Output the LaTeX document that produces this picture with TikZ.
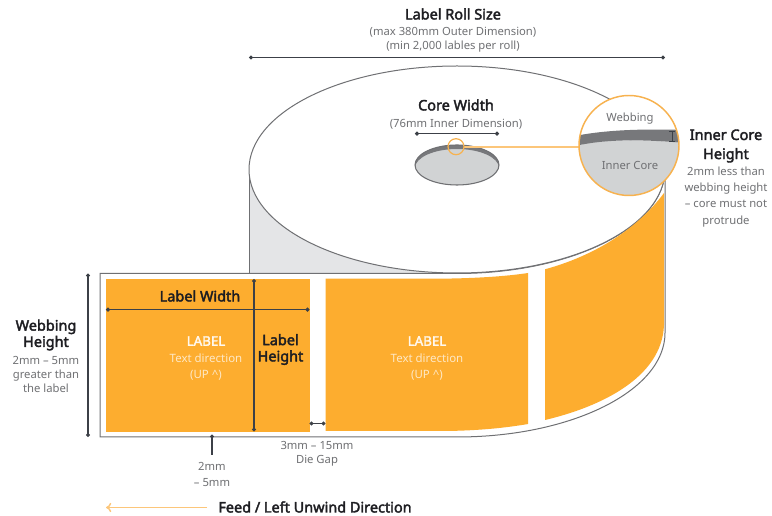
\documentclass[tikz,border=0pt]{standalone}
\usepackage{fontspec}
\setmainfont{Noto Sans}[BoldFont={Noto Sans},BoldFeatures={FakeBold=2.6}]
\usetikzlibrary{arrows.meta}
\definecolor{lab}{HTML}{FDAD2F}
\definecolor{ring}{HTML}{F7B24F}
\definecolor{ringlight}{HTML}{FCC67A}
\definecolor{dimc}{HTML}{3C4047}
\definecolor{edge}{HTML}{6F7073}
\definecolor{wall}{HTML}{E4E5E7}
\definecolor{coreg}{HTML}{D1D3D4}
\definecolor{band}{HTML}{77787B}
\definecolor{subt}{HTML}{6F7073}
\definecolor{headt}{HTML}{1E1E22}
\tikzset{
  x=0.75pt,y=-0.75pt,
  outline/.style={draw=edge,line width=0.75pt},
  dimline/.style={draw=dimc,line width=0.8pt,{Circle[length=3pt]}-{Circle[length=3pt]}},
  head/.style={text=headt,font=\bfseries\fontsize{10.85}{12.2}\selectfont,align=center,inner sep=0pt},
  subtxt/.style={text=subt,font=\fontsize{8.45}{10.4}\selectfont,align=center,inner sep=0pt},
  labhead/.style={text=white!92!lab,font=\bfseries\fontsize{10}{12}\selectfont,align=center,inner sep=0pt},
  labsub/.style={text=white!72!lab,font=\fontsize{8.6}{12}\selectfont,align=center,inner sep=0pt},
}
\begin{document}
\begin{tikzpicture}
\useasboundingbox (0,0) rectangle (772,516);
% roll side wall
\fill[wall] (249,170) -- (249,273.5) -- (457,273.5) -- cycle;
% webbing strip
\path[fill=white,outline] (100,273.5) -- (457,273.5)
  .. controls (571.9,273.5) and (665,226.7) .. (665,169.5) -- (665,333)
  .. controls (665,390.4) and (571.9,437) .. (457,437) -- (100,437) -- cycle;
\draw[outline] (249,170) -- (249,273.5);
% roll top face
\path[fill=white,outline] (457,169.5) ellipse[x radius=208,y radius=103.5];
% labels
\fill[lab] (105.7,278.7) rectangle (309.7,432);
\fill[lab] (325.5,278.7) -- (440,278.7) .. controls (475,278.3) and (505,276.5) .. (528,273)
  -- (528,424) .. controls (505,428) and (475,431) .. (440,431) -- (325.5,431) -- cycle;
\fill[lab] (545,269.3) .. controls (590,257) and (635,232) .. (664,193) -- (664,325)
  .. controls (662,378) and (600,407) .. (545,420) -- cycle;
% core hole
\begin{scope}
\clip (457,165) ellipse[x radius=42,y radius=20];
\fill[coreg] (415,145) rectangle (499,185);
\fill[band,even odd rule] (415,145) rectangle (499,185) (457,168) ellipse[x radius=42,y radius=19];
\end{scope}
\draw[edge,line width=0.8pt] (457,165) ellipse[x radius=42,y radius=20];
% magnifier
\coordinate (smallc) at (456,146.7);
\coordinate (bigc) at (629,145.5);
\draw[ringlight,line width=1.4pt] (464,146.7) -- (580,146.7);
\draw[ring,line width=0.9pt] (smallc) circle[radius=8];
\begin{scope}
\clip (bigc) circle[radius=50];
\fill[white] (575,90) rectangle (685,200);
\fill[coreg] (575,146) -- (579,145) .. controls (610,138) and (650,140) .. (685,143) -- (685,200) -- (575,200) -- cycle;
\fill[band] (575,136) .. controls (610,129) and (650,129) .. (685,130) -- (685,143)
  .. controls (650,140) and (610,138) .. (575,146) -- cycle;
\end{scope}
\draw[ring,line width=1.1pt] (bigc) circle[radius=50];
% dimension lines
\coordinate (rollL) at (249,57.5); \coordinate (rollR) at (665,57.5);
\coordinate (coreL) at (415,133.7); \coordinate (coreR) at (499,133.7);
\coordinate (lwL) at (106,309.7); \coordinate (lwR) at (309.5,309.7);
\coordinate (lhT) at (254,279); \coordinate (lhB) at (254,431.5);
\coordinate (whT) at (88,273.5); \coordinate (whB) at (88,437);
\coordinate (gapL) at (309.5,423.5); \coordinate (gapR) at (325.5,423.5);
\coordinate (marT) at (212,434.5); \coordinate (marB) at (212,455);
\coordinate (icT) at (672,131); \coordinate (icB) at (672,142);
\coordinate (feedR) at (207,507.5); \coordinate (feedL) at (106,507.5);
\draw[dimline] (rollL) -- (rollR);
\draw[dimline] (coreL) -- (coreR);
\draw[dimline] (lwL) -- (lwR);
\draw[dimline] (lhT) -- (lhB);
\draw[dimline] (whT) -- (whB);
\draw[dimline] (gapL) -- (gapR);
\draw[draw=dimc,line width=0.8pt,{Circle[length=3pt]}-] (marT) -- (marB);
\draw[draw=dimc,line width=0.7pt,{Bar[width=4pt]}-{Bar[width=4pt]}] (icT) -- (icB);
\draw[ringlight,line width=1.1pt,-{To[length=4pt,width=7pt]}] (feedR) -- (feedL);
% text
\node[head] (t1) at (453,14) {Label Roll Size};
\node[subtxt] (t2) at (453,39.5) {(max 380mm Outer Dimension)\\(min 2,000 lables per roll)};
\node[subtxt] (t4) at (456,124) {(76mm Inner Dimension)};
\node[head] (t3) at (456,105) {Core Width};
\node[subtxt] (t5) at (630,119) {Webbing};
\node[subtxt] (t6) at (630,165) {Inner Core};
\node[head,font=\bfseries\fontsize{10.85}{14.3}\selectfont] (t7) at (726,146) {Inner Core\\Height};
\node[subtxt,font=\fontsize{8.45}{12.1}\selectfont] (t8) at (726,197) {2mm less than\\webbing height\\– core must not\\protrude};
\node[head] (t9) at (46,335) {Webbing\\Height};
\node[subtxt] (t10) at (46,374.5) {2mm – 5mm\\greater than\\the label};
\node[head] (t11) at (200,296) {Label Width};
\node[labhead] (t12) at (206,341) {LABEL};
\node[labsub] (t13) at (206,367) {Text direction\\(UP \^{})};
\node[labhead] (t14) at (427,341) {LABEL};
\node[labsub] (t15) at (427,367) {Text direction\\(UP \^{})};
\node[head] (t16) at (280.5,349.5) {Label\\Height};
\node[subtxt,font=\fontsize{8.45}{12}\selectfont] (t17) at (212,474) {2mm\\– 5mm};
\node[subtxt] (t18) at (317,454) {3mm – 15mm\\Die Gap};
\node[head] (t19) at (315,507) {Feed / Left Unwind Direction};
\end{tikzpicture}
\end{document}
